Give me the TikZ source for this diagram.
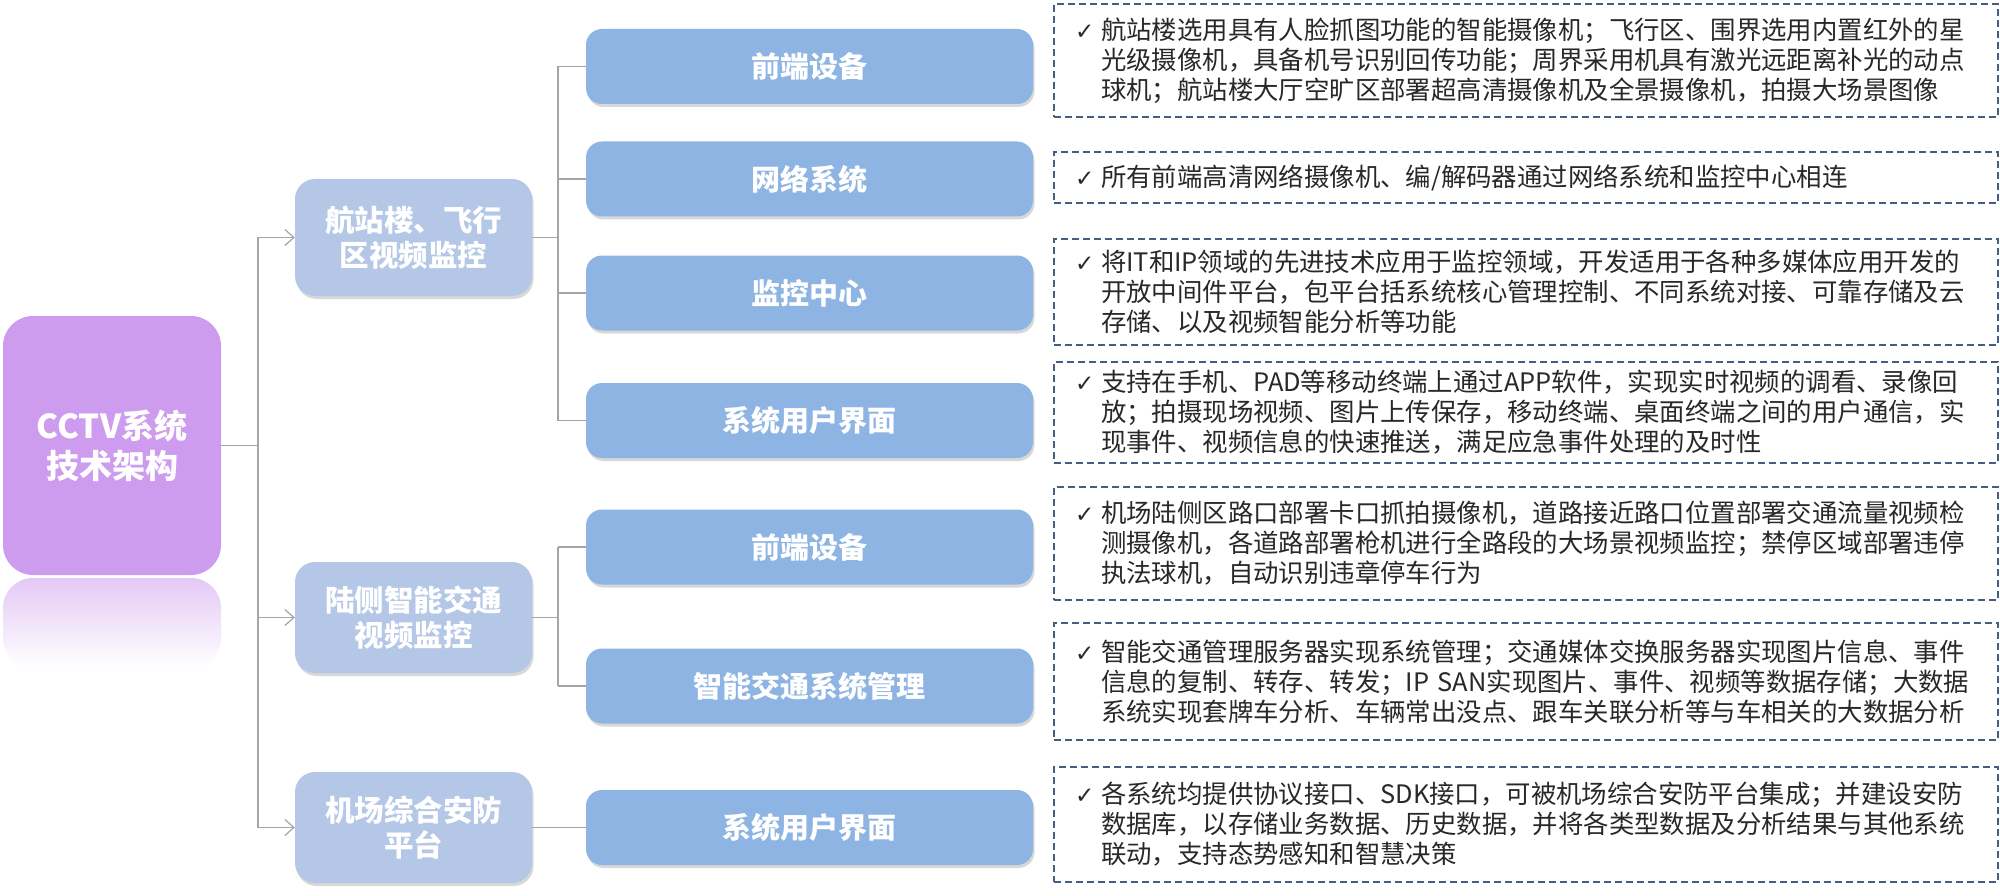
\documentclass[tikz,border=0pt]{standalone}
\usepackage{fontspec}
\setmainfont{Noto Sans CJK SC}
\newfontfamily\chkfont{DejaVu Sans}
\usetikzlibrary{arrows.meta,shadows}
\definecolor{rootc}{RGB}{206,156,238}
\definecolor{lvtwo}{RGB}{180,199,231}
\definecolor{lvthree}{RGB}{141,180,226}
\definecolor{connc}{RGB}{165,165,165}
\definecolor{dashc}{RGB}{68,94,130}
\definecolor{txtc}{RGB}{40,40,40}
\newcommand\ck{\makebox[26pt][l]{\chkfont\fontsize{23}{30}\selectfont ✓}}
\newcommand\ind{\hspace*{26pt}}
\begin{document}
\begin{tikzpicture}[x=1pt,y=-1pt,
 rootbox/.style={rectangle, rounded corners=30pt, fill=rootc, minimum width=218pt, minimum height=259pt, inner sep=0pt, text=white, font=\fontsize{33}{40}\selectfont\bfseries, align=center},
 midbox/.style={rectangle, rounded corners=20pt, fill=lvtwo, minimum width=237pt, inner sep=0pt, text=white, font=\fontsize{29.5}{35}\selectfont\bfseries, align=center, drop shadow={shadow xshift=1.5pt, shadow yshift=-3pt, opacity=0.3}},
 leafbox/.style={rectangle, rounded corners=16pt, fill=lvthree, minimum width=447pt, minimum height=75pt, inner sep=0pt, text=white, font=\fontsize{29}{35}\selectfont\bfseries, drop shadow={shadow xshift=1.5pt, shadow yshift=-3pt, opacity=0.3}},
 notebox/.style={rectangle, draw=dashc, line width=1.6pt, dash pattern=on 7pt off 4pt, minimum width=944pt, inner xsep=21pt, inner ysep=0pt, text width=902pt, align=left, text=txtc, font=\fontsize{25.4}{30}\selectfont},
 conn/.style={draw=connc, line width=1.3pt},
 arr/.style={conn, -{Straight Barb[length=9pt,width=16pt,line width=1.2pt]}}
]
\useasboundingbox (0,0) rectangle (2000,896);
\fill[white] (0,0) rectangle (2000,896);

% root and its reflection
\shade[top color=rootc!55, bottom color=white, rounded corners=30pt] (3,578) rectangle (221,668);
\node[rootbox] (root) at (112,445.5) {CCTV系统\\技术架构};

% second level
\node[midbox, minimum height=117pt] (ma) at (413.5,237.5) {航站楼、飞行\\区视频监控};
\node[midbox, minimum height=111pt] (mb) at (413.5,617.5) {陆侧智能交通\\视频监控};
\node[midbox, minimum height=111pt] (mc) at (413.5,827.5) {机场综合安防\\平台};

% third level
\node[leafbox] (la) at (809.5,66.5) {前端设备};
\node[leafbox] (lb) at (809.5,179) {网络系统};
\node[leafbox] (lc) at (809.5,293) {监控中心};
\node[leafbox] (ld) at (809.5,420.5) {系统用户界面};
\node[leafbox] (le) at (809.5,547) {前端设备};
\node[leafbox] (lf) at (809.5,686) {智能交通系统管理};
\node[leafbox] (lg) at (809.5,827.5) {系统用户界面};

% notes
\node[notebox, minimum height=113pt] (na) at (1526,60.5) {\ck 航站楼选用具有人脸抓图功能的智能摄像机；飞行区、围界选用内置红外的星\\\ind 光级摄像机，具备机号识别回传功能；周界采用机具有激光远距离补光的动点\\\ind 球机；航站楼大厅空旷区部署超高清摄像机及全景摄像机，拍摄大场景图像};
\node[notebox, minimum height=51pt] (nb) at (1526,177.5) {\ck 所有前端高清网络摄像机、编/解码器通过网络系统和监控中心相连};
\node[notebox, minimum height=106pt] (nc) at (1526,292) {\ck 将IT和IP领域的先进技术应用于监控领域，开发适用于各种多媒体应用开发的\\\ind 开放中间件平台，包平台括系统核心管理控制、不同系统对接、可靠存储及云\\\ind 存储、以及视频智能分析等功能};
\node[notebox, minimum height=101pt] (nd) at (1526,412.5) {\ck 支持在手机、PAD等移动终端上通过APP软件，实现实时视频的调看、录像回\\\ind 放；拍摄现场视频、图片上传保存，移动终端、桌面终端之间的用户通信，实\\\ind 现事件、视频信息的快速推送，满足应急事件处理的及时性};
\node[notebox, minimum height=113pt] (ne) at (1526,543.5) {\ck 机场陆侧区路口部署卡口抓拍摄像机，道路接近路口位置部署交通流量视频检\\\ind 测摄像机，各道路部署枪机进行全路段的大场景视频监控；禁停区域部署违停\\\ind 执法球机，自动识别违章停车行为};
\node[notebox, minimum height=117pt] (nf) at (1526,681.5) {\ck 智能交通管理服务器实现系统管理；交通媒体交换服务器实现图片信息、事件\\\ind 信息的复制、转存、转发；IP SAN实现图片、事件、视频等数据存储；大数据\\\ind 系统实现套牌车分析、车辆常出没点、跟车关联分析等与车相关的大数据分析};
\node[notebox, minimum height=115pt] (ng) at (1526,824.5) {\ck 各系统均提供协议接口、SDK接口，可被机场综合安防平台集成；并建设安防\\\ind 数据库，以存储业务数据、历史数据，并将各类型数据及分析结果与其他系统\\\ind 联动，支持态势感知和智慧决策};

% connectors root -> level 2
\coordinate (jr) at (258,445.5);
\draw[conn] (root.east) -- (jr);
\draw[conn] (ma.west -| jr) -- (mc.west -| jr);
\draw[arr] (ma.west -| jr) -- (ma.west);
\draw[arr] (mb.west -| jr) -- (mb.west);
\draw[arr] (mc.west -| jr) -- (mc.west);

% connectors level 2 -> level 3
\coordinate (ja) at (558,237.5);
\draw[conn] (ma.east) -- (ja);
\draw[conn] (la.west -| ja) -- (ld.west -| ja);
\draw[conn] (la.west -| ja) -- (la.west);
\draw[conn] (lb.west -| ja) -- (lb.west);
\draw[conn] (lc.west -| ja) -- (lc.west);
\draw[conn] (ld.west -| ja) -- (ld.west);

\coordinate (jb) at (558,617.5);
\draw[conn] (mb.east) -- (jb);
\draw[conn] (le.west -| jb) -- (lf.west -| jb);
\draw[conn] (le.west -| jb) -- (le.west);
\draw[conn] (lf.west -| jb) -- (lf.west);

\draw[conn] (mc.east) -- (lg.west);
\end{tikzpicture}
\end{document}
